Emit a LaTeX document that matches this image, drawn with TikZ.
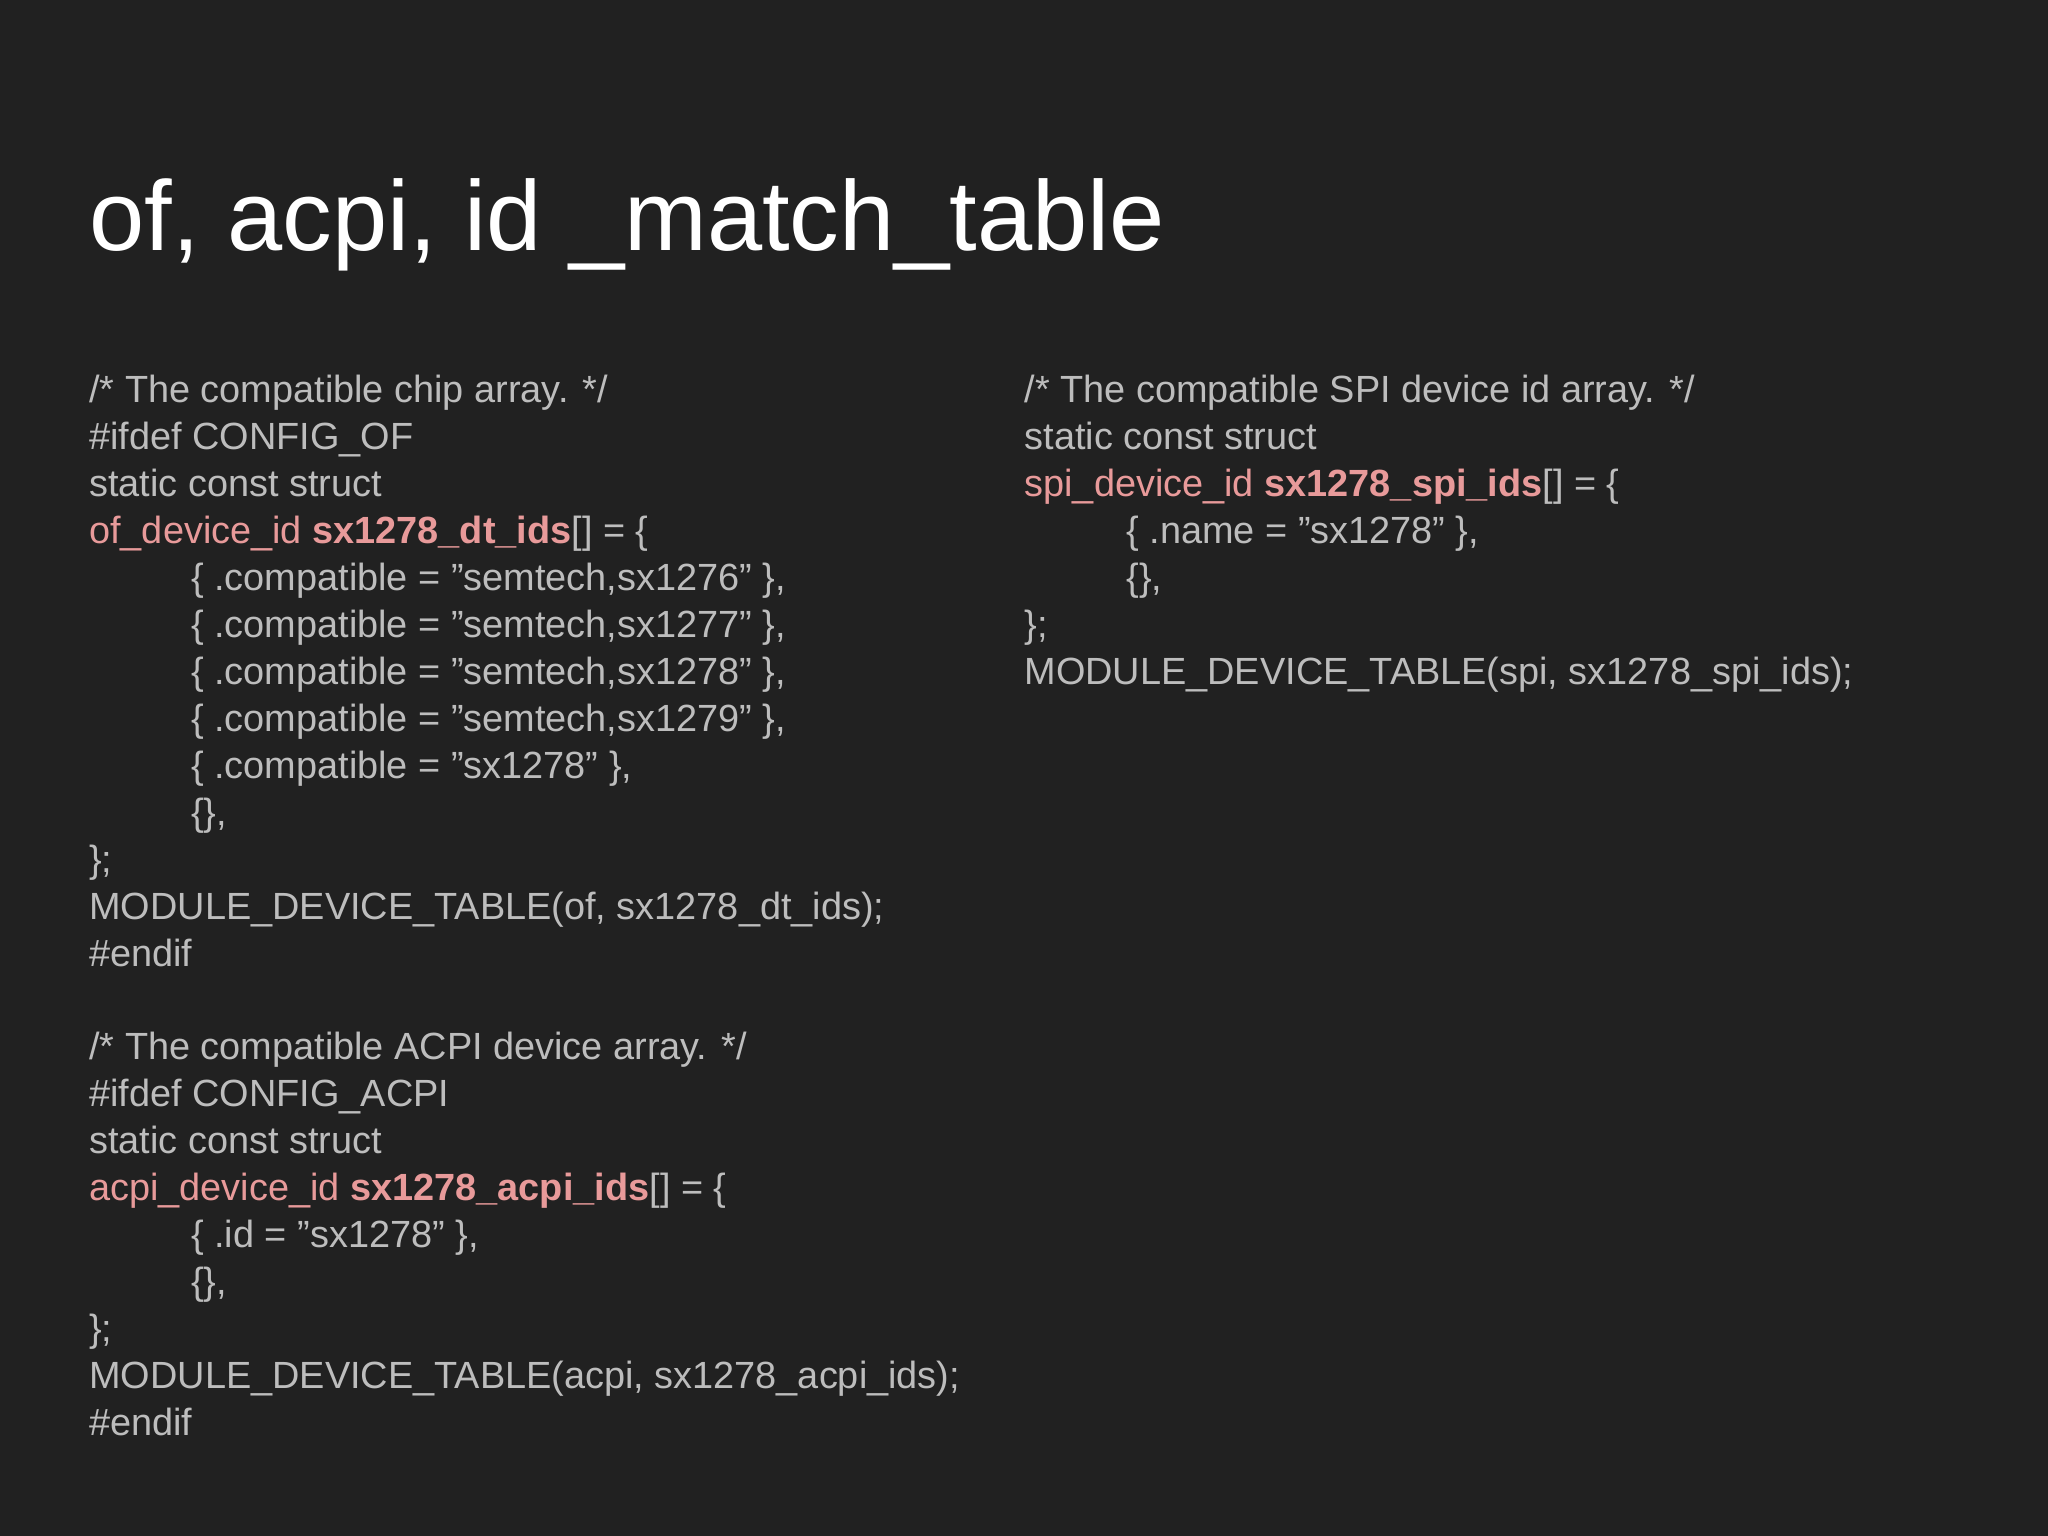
\documentclass[tikz,border=0pt]{standalone}
\usepackage{fontspec}
\setmainfont{Liberation Sans}
\definecolor{bg}{HTML}{212121}
\definecolor{code}{HTML}{BDBDBD}
\definecolor{hl}{HTML}{E89A9A}
\begin{document}
\begin{tikzpicture}[x=0.5pt,y=-0.5pt,
  codeline/.style={anchor=base west,inner sep=0pt,text=code,font=\fontsize{14.5pt}{16pt}\selectfont},
  titletext/.style={anchor=base west,inner sep=0pt,text=white,font=\fontsize{38pt}{44pt}\selectfont}]
\fill[bg] (0,0) rectangle (1568,1176);
\useasboundingbox (0,0) rectangle (1568,1176);
\node[titletext] (title) at (68,192) {of, acpi, id \_match\_table};
% left column
\def\L{68}\def\I{146}
\node[codeline] (a1) at (\L,308) {/* The compatible chip array. */};
\node[codeline] (a2) at (\L,344) {\#ifdef CONFIG\_OF};
\node[codeline] (a3) at (\L,380) {static const struct};
\node[codeline] (a4) at (\L,416) {\textcolor{hl}{of\_device\_id \textbf{sx1278\_dt\_ids}}[] = \{};
\node[codeline] (a5) at (\I,452) {\{ .compatible = "semtech,sx1276" \},};
\node[codeline] (a6) at (\I,488) {\{ .compatible = "semtech,sx1277" \},};
\node[codeline] (a7) at (\I,524) {\{ .compatible = "semtech,sx1278" \},};
\node[codeline] (a8) at (\I,560) {\{ .compatible = "semtech,sx1279" \},};
\node[codeline] (a9) at (\I,596) {\{ .compatible = "sx1278" \},};
\node[codeline] (a10) at (\I,632) {\{\},};
\node[codeline] (a11) at (\L,668) {\};};
\node[codeline] (a12) at (\L,704) {MODULE\_DEVICE\_TABLE(of, sx1278\_dt\_ids);};
\node[codeline] (a13) at (\L,740) {\#endif};
\node[codeline] (b1) at (\L,811) {/* The compatible ACPI device array. */};
\node[codeline] (b2) at (\L,847) {\#ifdef CONFIG\_ACPI};
\node[codeline] (b3) at (\L,883) {static const struct};
\node[codeline] (b4) at (\L,919) {\textcolor{hl}{acpi\_device\_id \textbf{sx1278\_acpi\_ids}}[] = \{};
\node[codeline] (b5) at (\I,955) {\{ .id = "sx1278" \},};
\node[codeline] (b6) at (\I,991) {\{\},};
\node[codeline] (b7) at (\L,1027) {\};};
\node[codeline] (b8) at (\L,1063) {MODULE\_DEVICE\_TABLE(acpi, sx1278\_acpi\_ids);};
\node[codeline] (b9) at (\L,1099) {\#endif};
% right column
\def\R{784}\def\RI{862}
\node[codeline] (c1) at (\R,308) {/* The compatible SPI device id array. */};
\node[codeline] (c2) at (\R,344) {static const struct};
\node[codeline] (c3) at (\R,380) {\textcolor{hl}{spi\_device\_id \textbf{sx1278\_spi\_ids}}[] = \{};
\node[codeline] (c4) at (\RI,416) {\{ .name = "sx1278" \},};
\node[codeline] (c5) at (\RI,452) {\{\},};
\node[codeline] (c6) at (\R,488) {\};};
\node[codeline] (c7) at (\R,524) {MODULE\_DEVICE\_TABLE(spi, sx1278\_spi\_ids);};
\end{tikzpicture}
\end{document}
